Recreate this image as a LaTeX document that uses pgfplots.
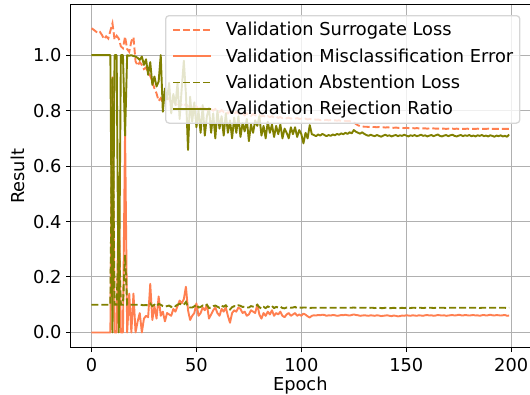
\documentclass[border=0pt]{standalone}
\usepackage{fontspec}
\setmainfont{DejaVu Sans}
\usepackage{pgfplots}
\usepackage{pgfplotstable}
\pgfplotsset{compat=1.18}
\definecolor{mcoral}{HTML}{FF7F50}
\definecolor{molive}{HTML}{808000}
\definecolor{gridc}{HTML}{B0B0B0}
\newcommand\ff{\fontsize{17.8bp}{21bp}\selectfont}

\pgfplotstableread{
ep sl me al rr
0 1.097 0 0.100 1
1 1.092 0 0.100 1
2 1.086 0 0.100 1
3 1.080 0 0.100 1
4 1.084 0 0.100 1
5 1.073 0 0.100 1
6 1.058 0 0.100 1
7 1.068 0 0.100 1
8 1.060 0 0.100 1
9 1.088 0 0.100 1
10 1.115 0.92 0.92 0
11 1.056 0 0.100 1
12 1.070 0 0.100 1
13 1.060 0.53 0.350 0
14 1.032 0 0.100 1
15 1.025 0 0.100 1
16 1.067 0.73 0.280 0.71
17 1.022 0 0.100 1
18 1.012 0.14 0.100 0.998
19 1.050 0.0 0.100 1.0
20 1.065 0.14 0.100 0.997
21 0.978 0.0 0.100 0.995
22 0.962 0.04 0.100 0.99
23 0.975 0.07 0.100 0.983
24 0.965 0.0 0.099 0.995
25 0.950 0.05 0.098 0.965
26 0.956 0.06 0.099 0.985
27 0.935 0.055 0.097 0.929
28 0.925 0.175 0.104 0.975
29 0.905 0.045 0.095 0.893
30 0.880 0.095 0.100 0.923
31 0.862 0.05 0.094 0.887
32 0.835 0.13 0.103 0.905
33 0.845 0.06 0.100 1.0
34 0.830 0.075 0.095 0.796
35 0.850 0.04 0.093 0.88
36 0.835 0.07 0.095 0.84
37 0.845 0.065 0.097 0.90
38 0.825 0.06 0.092 0.79
39 0.835 0.085 0.098 0.86
40 0.825 0.075 0.095 0.82
41 0.815 0.095 0.100 0.90
42 0.830 0.115 0.103 0.77
43 0.820 0.105 0.101 0.88
44 0.815 0.12 0.100 0.98
45 0.825 0.165 0.110 0.86
46 0.815 0.08 0.093 0.658
47 0.825 0.045 0.090 0.85
48 0.810 0.06 0.090 0.76
49 0.805 0.07 0.094 0.83
50 0.815 0.105 0.101 0.74
51 0.805 0.06 0.090 0.80
52 0.810 0.07 0.092 0.72
53 0.800 0.09 0.097 0.82
54 0.808 0.08 0.094 0.71
55 0.803 0.10 0.100 0.78
56 0.798 0.05 0.088 0.81
57 0.805 0.065 0.090 0.72
58 0.800 0.08 0.095 0.79
59 0.806 0.09 0.097 0.70
60 0.798 0.07 0.093 0.80
61 0.795 0.06 0.089 0.735
62 0.802 0.085 0.096 0.78
63 0.795 0.075 0.093 0.71
64 0.798 0.09 0.098 0.79
65 0.790 0.06 0.089 0.72
66 0.797 0.035 0.083 0.765
67 0.792 0.07 0.091 0.70
68 0.788 0.08 0.095 0.775
69 0.795 0.075 0.093 0.72
70 0.790 0.09 0.098 0.78
71 0.786 0.085 0.096 0.705
72 0.790 0.07 0.092 0.755
73 0.783 0.075 0.093 0.725
74 0.790 0.06 0.090 0.77
75 0.785 0.065 0.090 0.69
76 0.781 0.08 0.095 0.75
77 0.788 0.075 0.093 0.72
78 0.784 0.07 0.092 0.765
79 0.780 0.10 0.100 0.745
80 0.784 0.065 0.091 0.78
81 0.779 0.05 0.086 0.71
82 0.782 0.07 0.092 0.745
83 0.776 0.06 0.088 0.70
84 0.780 0.075 0.094 0.76
85 0.777 0.065 0.090 0.72
86 0.780 0.08 0.095 0.75
87 0.775 0.06 0.088 0.705
88 0.778 0.07 0.092 0.745
89 0.774 0.065 0.090 0.715
90 0.777 0.075 0.093 0.75
91 0.773 0.06 0.088 0.70
92 0.775 0.055 0.087 0.735
93 0.772 0.065 0.090 0.72
94 0.775 0.07 0.091 0.70
95 0.771 0.06 0.089 0.74
96 0.773 0.065 0.090 0.715
97 0.771 0.07 0.092 0.74
98 0.773 0.06 0.088 0.705
99 0.770 0.065 0.090 0.73
100 0.771 0.06 0.089 0.715
101 0.769 0.068 0.090 0.682
102 0.771 0.064 0.090 0.72
103 0.768 0.058 0.088 0.70
104 0.770 0.054 0.088 0.748
105 0.768 0.06 0.089 0.715
106 0.769 0.062 0.089 0.712
107 0.767 0.061 0.089 0.708
108 0.768 0.063 0.089 0.714
109 0.766 0.062 0.089 0.71
110 0.767 0.064 0.089 0.716
111 0.766 0.063 0.089 0.712
112 0.767 0.06 0.089 0.708
113 0.765 0.062 0.089 0.712
114 0.766 0.061 0.089 0.709
115 0.765 0.063 0.089 0.714
116 0.765 0.062 0.089 0.711
117 0.764 0.06 0.089 0.716
118 0.765 0.061 0.089 0.713
119 0.763 0.063 0.089 0.718
120 0.764 0.062 0.089 0.715
121 0.763 0.064 0.089 0.72
122 0.762 0.062 0.089 0.716
123 0.762 0.061 0.089 0.722
124 0.760 0.063 0.089 0.718
125 0.757 0.065 0.090 0.73
126 0.752 0.063 0.089 0.724
127 0.747 0.062 0.089 0.72
128 0.744 0.06 0.089 0.717
129 0.743 0.061 0.089 0.722
130 0.742 0.062 0.089 0.716
131 0.742 0.061 0.089 0.712
132 0.741 0.06 0.088 0.709
133 0.742 0.062 0.089 0.713
134 0.741 0.061 0.089 0.71
135 0.741 0.06 0.088 0.708
136 0.740 0.062 0.089 0.712
137 0.741 0.061 0.089 0.709
138 0.740 0.059 0.088 0.706
139 0.740 0.06 0.088 0.71
140 0.739 0.061 0.089 0.713
141 0.740 0.062 0.089 0.709
142 0.739 0.06 0.088 0.711
143 0.739 0.059 0.088 0.707
144 0.738 0.061 0.089 0.71
145 0.739 0.06 0.088 0.712
146 0.738 0.058 0.088 0.708
147 0.738 0.059 0.088 0.711
148 0.738 0.061 0.089 0.709
149 0.737 0.06 0.088 0.713
150 0.738 0.062 0.089 0.71
151 0.737 0.061 0.089 0.707
152 0.737 0.06 0.088 0.711
153 0.737 0.062 0.089 0.709
154 0.736 0.061 0.089 0.712
155 0.737 0.06 0.088 0.708
156 0.736 0.062 0.089 0.71
157 0.736 0.061 0.089 0.713
158 0.736 0.06 0.088 0.709
159 0.736 0.062 0.089 0.711
160 0.735 0.063 0.089 0.707
161 0.736 0.061 0.089 0.71
162 0.735 0.062 0.089 0.712
163 0.736 0.06 0.088 0.708
164 0.735 0.061 0.089 0.711
165 0.735 0.063 0.089 0.714
166 0.735 0.062 0.089 0.709
167 0.735 0.061 0.089 0.707
168 0.735 0.062 0.089 0.71
169 0.734 0.06 0.088 0.712
170 0.735 0.061 0.089 0.708
171 0.734 0.062 0.089 0.711
172 0.735 0.063 0.089 0.713
173 0.734 0.061 0.089 0.709
174 0.735 0.062 0.089 0.707
175 0.734 0.064 0.089 0.71
176 0.734 0.062 0.089 0.712
177 0.734 0.061 0.089 0.708
178 0.734 0.063 0.089 0.711
179 0.735 0.062 0.089 0.709
180 0.734 0.061 0.089 0.712
181 0.734 0.062 0.089 0.708
182 0.734 0.063 0.089 0.71
183 0.734 0.061 0.089 0.707
184 0.735 0.062 0.089 0.711
185 0.734 0.06 0.088 0.709
186 0.734 0.062 0.089 0.712
187 0.734 0.063 0.089 0.708
188 0.734 0.061 0.089 0.71
189 0.735 0.062 0.089 0.707
190 0.734 0.064 0.089 0.711
191 0.734 0.062 0.089 0.709
192 0.734 0.061 0.089 0.706
193 0.734 0.063 0.089 0.71
194 0.734 0.062 0.089 0.708
195 0.734 0.061 0.089 0.711
196 0.734 0.062 0.089 0.707
197 0.734 0.063 0.089 0.709
198 0.734 0.06 0.088 0.706
199 0.734 0.061 0.089 0.714
}\datatable

\begin{document}
\begin{tikzpicture}
\begin{axis}[
  at={(70.6bp,47.3bp)}, anchor=south west,
  scale only axis, width=459.4bp, height=342.7bp,
  xmin=-9.95, xmax=208.95, ymin=-0.055, ymax=1.181,
  xtick={0,50,100,150,200},
  ytick={0,0.2,0.4,0.6,0.8,1.0},
  /pgf/number format/assume math mode=true,
  yticklabel style={/pgf/number format/fixed, /pgf/number format/fixed zerofill, /pgf/number format/precision=1, xshift=-4.45bp},
  xticklabel style={/pgf/number format/fixed, /pgf/number format/precision=0, yshift=-5.9bp},
  tick label style={font=\ff, inner sep=0bp},
  tick align=outside, major tick length=4.45bp,
  tick style={black, line width=1bp},
  xtick pos=bottom, ytick pos=left,
  grid=major, grid style={gridc, line width=1bp},
  axis line style={black, line width=1bp},
  label style={font=\ff},
  xlabel={Epoch}, ylabel={Result},
  xlabel style={at={(axis description cs:0.5,-0.1262)}, anchor=base},
  ylabel style={at={(axis description cs:-0.1003,0.5)}, anchor=base},
  legend style={
    at={(axis description cs:0.2055,0.9708)}, anchor=north west,
    draw=black!16, line width=1.27bp, rounded corners=3.5bp,
    fill=white, fill opacity=0.8, text opacity=1, draw opacity=1,
    inner xsep=6.7bp, inner ysep=5.3bp,
    row sep=8.3bp,
    font=\ff,
    nodes={inner sep=0bp, text height=15bp, text depth=3bp},
    /tikz/every odd column/.append style={column sep=14bp},
  },
  legend cell align=left,
  legend image code/.code={\draw[#1] (0bp,0bp) -- (37.6bp,0bp);},
]
\addplot[mcoral, line width=1.9bp, dash pattern=on 7bp off 3bp] table[x=ep, y=sl] {\datatable};
\addlegendentry{Validation Surrogate Loss}
\addplot[mcoral, line width=1.9bp, line join=round] table[x=ep, y=me] {\datatable};
\addlegendentry{Validation Misclassification Error}
\addplot[molive, line width=1.9bp, dash pattern=on 7bp off 3bp] table[x=ep, y=al] {\datatable};
\addlegendentry{Validation Abstention Loss}
\addplot[molive, line width=1.9bp, line join=round] table[x=ep, y=rr] {\datatable};
\addlegendentry{Validation Rejection Ratio}
\end{axis}
\pgfresetboundingbox
\path[use as bounding box] (0,0) rectangle (530bp,395bp);
\end{tikzpicture}
\end{document}
